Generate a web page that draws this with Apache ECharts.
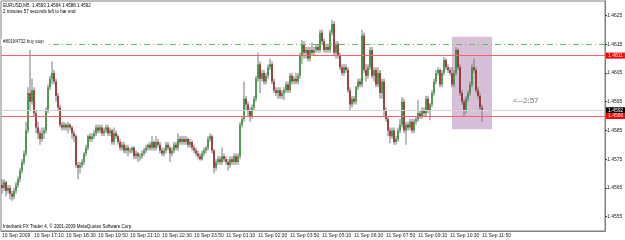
<!DOCTYPE html>
<html>
<head>
<meta charset="utf-8">
<script src="https://cdn.jsdelivr.net/npm/echarts@6/dist/echarts.min.js"></script>
<style>
html, body { margin: 0; padding: 0; background: #fff; }
#main { width: 625px; height: 240px; }
</style>
</head>
<body>
<div id="main"></div>
<script>
// EURUSD M5 bars: [open, close, low, high]
var bars = [
[1.4566,1.4565,1.4563,1.4568],[1.4565,1.4567,1.4564,1.4568],[1.4567,1.4564,1.4562,1.45675],[1.4564,1.4565,1.4563,1.4566],
[1.4565,1.4563,1.4561,1.4566],[1.4563,1.4562,1.45605,1.4564],[1.4562,1.4564,1.4561,1.4565],[1.4564,1.4566,1.4563,1.4567],
[1.4566,1.4568,1.4565,1.4569],[1.4568,1.4571,1.4567,1.4572],[1.4571,1.4574,1.4570,1.4575],[1.4574,1.4577,1.4573,1.4578],
[1.4577,1.4585,1.4576,1.4588],[1.4585,1.4598,1.4584,1.4600],[1.4598,1.4595,1.4592,1.4613],[1.4595,1.4599,1.4594,1.4603],
[1.4599,1.4591,1.4590,1.4600],[1.4591,1.4586,1.4584,1.4592],[1.4586,1.4584,1.4582,1.4588],[1.4584,1.4582,1.4580,1.4585],
[1.4582,1.4584,1.4581,1.4586],[1.4584,1.4585,1.4582,1.4586],[1.4585,1.4592,1.4584,1.4593],[1.4592,1.4600,1.4591,1.4601],
[1.4600,1.4603,1.4599,1.4604],[1.4603,1.4605,1.4601,1.4609],[1.4605,1.4602,1.4601,1.4606],[1.4602,1.4597,1.4595,1.4603],
[1.4597,1.4593,1.4592,1.4598],[1.4593,1.4587,1.4586,1.4594],[1.4587,1.4586,1.4585,1.4588],[1.4586,1.4587,1.4585,1.4588],
[1.4587,1.4586,1.4585,1.45875],[1.4586,1.4587,1.4584,1.4588],[1.4587,1.4586,1.4585,1.45875],[1.4586,1.4584,1.4582,1.45865],
[1.4584,1.4583,1.4581,1.4585],[1.4583,1.4573,1.4572,1.45835],[1.4573,1.4572,1.4568,1.4574],[1.4572,1.4573,1.4570,1.4574],
[1.4573,1.4574,1.4572,1.4575],[1.4574,1.4577,1.4573,1.45775],[1.4577,1.4579,1.4576,1.4580],[1.4579,1.4583,1.4578,1.45835],
[1.4583,1.4582,1.4581,1.4584],[1.4582,1.4583,1.4581,1.4584],[1.4583,1.4584,1.4582,1.4585],[1.4584,1.4586,1.4583,1.4587],
[1.4586,1.4585,1.4584,1.4587],[1.4585,1.4586,1.4584,1.4587],[1.4586,1.4584,1.4583,1.4587],[1.4584,1.4585,1.4583,1.4586],
[1.4585,1.4586,1.4584,1.4587],[1.4586,1.4584,1.4583,1.4587],[1.4584,1.4585,1.4583,1.4586],[1.4585,1.4581,1.4580,1.45855],
[1.4581,1.4584,1.4580,1.4586],[1.4584,1.4583,1.4582,1.4585],[1.4583,1.4581,1.4580,1.45835],[1.4581,1.4579,1.4578,1.4582],
[1.4579,1.4580,1.4578,1.4581],[1.4580,1.4578,1.4577,1.4581],[1.4578,1.4579,1.4577,1.4580],[1.4579,1.4578,1.4576,1.4580],
[1.4578,1.4578,1.4577,1.4579],[1.4578,1.4579,1.4577,1.45795],[1.4579,1.4576,1.4575,1.45795],[1.4576,1.4577,1.4575,1.4578],
[1.4577,1.4576,1.4574,1.45775],[1.4576,1.4576,1.45745,1.4577],[1.4576,1.4577,1.4575,1.4578],[1.4577,1.4578,1.4576,1.4579],
[1.4578,1.4579,1.4577,1.4580],[1.4579,1.4580,1.4578,1.45805],[1.4580,1.4579,1.4578,1.4581],[1.4579,1.4581,1.4578,1.4583],
[1.4581,1.4579,1.4578,1.45815],[1.4579,1.4581,1.4578,1.4583],[1.4581,1.4580,1.4579,1.4582],[1.4580,1.4578,1.4577,1.4581],
[1.4578,1.4577,1.4576,1.4579],[1.4577,1.4578,1.4576,1.4579],[1.4578,1.4580,1.4577,1.4581],[1.4580,1.4579,1.4578,1.4581],
[1.4579,1.4577,1.4574,1.45795],[1.4577,1.4578,1.4576,1.4579],[1.4578,1.4580,1.4577,1.4581],[1.4580,1.4579,1.4578,1.4581],
[1.4579,1.4582,1.4578,1.4584],[1.4582,1.4581,1.4580,1.4583],[1.4581,1.4582,1.4580,1.4583],[1.4582,1.4581,1.4580,1.4583],
[1.4581,1.4582,1.4580,1.4583],[1.4582,1.4580,1.4579,1.45825],[1.4580,1.4581,1.4579,1.4582],[1.4581,1.4579,1.4578,1.45815],
[1.4579,1.4578,1.4577,1.4580],[1.4578,1.4577,1.4576,1.4579],[1.4577,1.4576,1.4575,1.4578],[1.4576,1.4575,1.45745,1.4577],
[1.4575,1.4577,1.45745,1.4578],[1.4577,1.4578,1.4576,1.4579],[1.4578,1.4579,1.4577,1.45795],[1.4579,1.4582,1.4578,1.4583],
[1.4582,1.4583,1.4581,1.4584],[1.4583,1.4578,1.4577,1.45835],[1.4578,1.4572,1.4570,1.45785],[1.4572,1.4574,1.4571,1.4575],
[1.4574,1.4575,1.4573,1.4576],[1.4575,1.4574,1.4573,1.4576],[1.4574,1.4576,1.4573,1.4579],[1.4576,1.4575,1.4574,1.4577],
[1.4575,1.4574,1.4573,1.4576],[1.4574,1.4573,1.4571,1.4575],[1.4573,1.4575,1.4572,1.4576],[1.4575,1.4574,1.4573,1.4576],
[1.4574,1.4576,1.4573,1.4577],[1.4576,1.4574,1.4573,1.4577],[1.4574,1.4576,1.4573,1.4577],[1.4576,1.4587,1.4575,1.4588],
[1.4587,1.4589,1.4586,1.4590],[1.4589,1.4596,1.4588,1.4602],[1.4596,1.4594,1.4592,1.4597],[1.4594,1.4592,1.4590,1.4595],
[1.4592,1.4590,1.4588,1.4593],[1.4590,1.4593,1.4589,1.4594],[1.4593,1.4596,1.4592,1.4597],[1.4596,1.4603,1.4595,1.4604],
[1.4603,1.4608,1.4602,1.4612],[1.4608,1.4603,1.4598,1.4609],[1.4603,1.4605,1.4602,1.4606],[1.4605,1.4602,1.4601,1.4606],
[1.4602,1.4604,1.4601,1.4605],[1.4604,1.4607,1.4603,1.4608],[1.4607,1.4608,1.4606,1.4610],[1.4608,1.4602,1.4601,1.4609],
[1.4602,1.4599,1.4598,1.4603],[1.4599,1.4598,1.4597,1.4600],[1.4598,1.4599,1.4596,1.4600],[1.4599,1.4597,1.4596,1.4600],
[1.4597,1.4598,1.4596,1.4599],[1.4598,1.4599,1.45955,1.4600],[1.4599,1.4601,1.4598,1.4602],[1.4601,1.4599,1.4598,1.4602],
[1.4599,1.4604,1.4598,1.4605],[1.4604,1.4602,1.4601,1.4605],[1.4602,1.4603,1.4601,1.4604],[1.4603,1.4602,1.4601,1.4605],
[1.4602,1.4604,1.4601,1.4605],[1.4604,1.4611,1.4603,1.4612],[1.4611,1.4615,1.4608,1.46165],[1.4615,1.4612,1.4610,1.4616],
[1.4612,1.4613,1.4610,1.4614],[1.4613,1.4610,1.4609,1.4614],[1.4610,1.4613,1.4609,1.4614],[1.4613,1.4612,1.4611,1.46155],
[1.4612,1.4613,1.4611,1.4614],[1.4613,1.4614,1.4612,1.4615],[1.4614,1.4613,1.4612,1.4615],[1.4613,1.4619,1.4612,1.4620],
[1.4619,1.4616,1.4615,1.4620],[1.4616,1.4613,1.4612,1.4617],[1.4613,1.4614,1.4612,1.4615],[1.4614,1.4613,1.4612,1.4615],
[1.4613,1.4619,1.4612,1.4620],[1.4619,1.4622,1.4618,1.46234],[1.4622,1.4612,1.4611,1.4623],[1.4612,1.4615,1.4610,1.4616],
[1.4615,1.4611,1.4610,1.4616],[1.4611,1.4607,1.4606,1.4612],[1.4607,1.4605,1.4604,1.4608],[1.4605,1.4607,1.4604,1.4608],
[1.4607,1.4606,1.4605,1.4608],[1.4606,1.4599,1.4598,1.4607],[1.4599,1.4594,1.4592,1.4600],[1.4594,1.4596,1.4593,1.4597],
[1.4596,1.4595,1.4594,1.4597],[1.4595,1.4600,1.4594,1.46005],[1.4600,1.4602,1.4599,1.4603],[1.4602,1.4601,1.4600,1.4603],
[1.4601,1.4618,1.4600,1.4620],[1.4618,1.4606,1.4605,1.4619],[1.4606,1.4604,1.4602,1.4608],[1.4604,1.4607,1.4603,1.4608],
[1.4607,1.4613,1.4606,1.4614],[1.4613,1.4604,1.4603,1.4614],[1.4604,1.4606,1.4602,1.4607],[1.4606,1.4601,1.4600,1.4607],
[1.4601,1.4605,1.4600,1.4607],[1.4605,1.4598,1.4596,1.4606],[1.4598,1.4602,1.4596,1.4603],[1.4602,1.4592,1.4590,1.4603],
[1.4592,1.4589,1.4588,1.4593],[1.4589,1.4585,1.4583,1.4590],[1.4585,1.4583,1.45805,1.4586],[1.4583,1.4585,1.4582,1.4586],
[1.4585,1.4581,1.4580,1.4586],[1.4581,1.4582,1.4580,1.4583],[1.4582,1.4585,1.4581,1.4586],[1.4585,1.4587,1.4584,1.4589],
[1.4587,1.4595,1.4586,1.45966],[1.4595,1.4585,1.4584,1.4596],[1.4585,1.4587,1.4580,1.4588],[1.4587,1.4586,1.4585,1.4588],
[1.4586,1.4588,1.4585,1.4589],[1.4588,1.4585,1.4584,1.4589],[1.4585,1.4588,1.4584,1.4589],[1.4588,1.4589,1.4587,1.4590],
[1.4589,1.4591,1.4588,1.45955],[1.4591,1.4590,1.4589,1.4592],[1.4590,1.4592,1.4589,1.4593],[1.4592,1.4591,1.4590,1.4593],
[1.4591,1.4596,1.4590,1.4597],[1.4596,1.4592,1.4591,1.4597],[1.4592,1.4594,1.45885,1.45945],[1.4594,1.4598,1.4593,1.4599],
[1.4598,1.4602,1.4597,1.4603],[1.4602,1.4605,1.4601,1.4606],[1.4605,1.4606,1.4604,1.4607],[1.4606,1.4601,1.4600,1.46065],
[1.4601,1.4605,1.4600,1.4606],[1.4605,1.46095,1.4604,1.46105],[1.46095,1.4607,1.4606,1.4610],[1.4607,1.4606,1.4605,1.4608],
[1.4606,1.4605,1.4604,1.4607],[1.4605,1.4601,1.4600,1.4607],[1.4601,1.4605,1.4600,1.4606],[1.4605,1.4613,1.4604,1.4614],
[1.4613,1.4607,1.4606,1.46135],[1.4607,1.4598,1.4597,1.4608],[1.4598,1.4595,1.4594,1.4599],[1.4595,1.4592,1.4590,1.4596],
[1.4592,1.4596,1.4591,1.4597],[1.4596,1.4598,1.4595,1.4599],[1.4598,1.4601,1.4597,1.4602],[1.4601,1.4607,1.4600,1.4608],
[1.4607,1.4606,1.4605,1.4610],[1.4606,1.4599,1.4598,1.4607],[1.4599,1.4597,1.4596,1.4600],[1.4597,1.4593,1.4592,1.4598],
[1.4593,1.4592,1.4588,1.4594]
];

// one label every 16 bars (80 minutes)
var timeLabels = ['10 Sep 2009', '10 Sep 17:10', '10 Sep 18:30', '10 Sep 19:50', '10 Sep 21:10', '10 Sep 22:30',
  '10 Sep 23:50', '11 Sep 01:10', '11 Sep 02:30', '11 Sep 03:50', '11 Sep 05:10', '11 Sep 06:30',
  '11 Sep 07:50', '11 Sep 09:10', '11 Sep 10:30', '11 Sep 11:50'];
var priceTicks = [1.4555, 1.4565, 1.4575, 1.4585, 1.4595, 1.4605, 1.4615, 1.4625];

var redLevels = [1.4611, 1.4590];
var buyStop = 1.4615;
var bidPrice = 1.4592;
var boxStart = 225, boxEnd = 245, boxTop = 1.46176, boxBottom = 1.45854;

var slotCount = 302; // bars plus the empty shift on the right
var categories = [];
for (var i = 0; i < slotCount; i++) {
  categories.push(i % 16 === 0 && i / 16 < timeLabels.length ? timeLabels[i / 16] : '');
}
var candleData = bars.map(function (b, i) { return [i, b[0], b[1], b[2], b[3]]; });

var FONT = 'Liberation Sans';
var showTick = function (index) { return index % 16 === 0 && index / 16 < timeLabels.length; };

function priceTag(bg) {
  return {
    show: true, position: 'end', distance: 1,
    formatter: function (p) { return Number(p.value).toFixed(4); },
    color: '#fff', backgroundColor: bg, fontSize: 5, fontFamily: FONT,
    padding: [1, 2, 0, 2]
  };
}

function renderCandle(params, api) {
  var i = api.value(0);
  var o = api.value(1), c = api.value(2), l = api.value(3), h = api.value(4);
  var pO = api.coord([i, o]), pC = api.coord([i, c]);
  var pL = api.coord([i, l]), pH = api.coord([i, h]);
  var w = 1.5;
  var top = Math.min(pO[1], pC[1]);
  var ht = Math.max(Math.abs(pO[1] - pC[1]), 1);
  return {
    type: 'group',
    children: [
      { type: 'line', shape: { x1: pH[0], y1: pH[1], x2: pL[0], y2: pL[1] },
        style: { stroke: '#767676', lineWidth: 1 } },
      { type: 'rect', shape: { x: pO[0] - w / 2, y: top, width: w, height: ht },
        style: { fill: c >= o ? '#2a8f2a' : '#951a1a' } }
    ]
  };
}

var myChart = echarts.init(document.getElementById('main'));
var option = {
  animation: false,
  backgroundColor: '#fff',
  grid: { left: 1, right: 20, top: 1, bottom: 9, show: true, borderColor: '#808080', borderWidth: 1,
    outerBoundsMode: 'none' },
  xAxis: {
    type: 'category', data: categories, boundaryGap: true,
    axisLine: { lineStyle: { color: '#808080' } },
    axisTick: { interval: showTick, length: 2, alignWithLabel: true, lineStyle: { color: '#404040' } },
    axisLabel: { interval: showTick, align: 'left', fontSize: 5, fontFamily: FONT, color: '#202020', margin: 2 },
    splitLine: { show: false }
  },
  yAxis: {
    type: 'value', position: 'right', min: 1.4550, max: 1.4630,
    axisLine: { show: true, lineStyle: { color: '#808080' } },
    axisTick: { show: true, customValues: priceTicks, length: 2, lineStyle: { color: '#404040' } },
    axisLabel: { customValues: priceTicks, fontSize: 5, fontFamily: FONT, color: '#202020', margin: 2,
      formatter: function (v) { return v.toFixed(4); } },
    splitLine: { show: false }
  },
  series: [
    {
      type: 'line', data: [], z: 1, silent: true,
      markArea: {
        silent: true,
        itemStyle: { color: '#d8bfd8' },
        data: [[{ xAxis: boxStart, yAxis: boxTop }, { xAxis: boxEnd, yAxis: boxBottom }]]
      }
    },
    {
      type: 'custom', z: 2, renderItem: renderCandle, data: candleData,
      encode: { x: 0, y: [1, 2, 3, 4] }, clip: true
    },
    {
      type: 'line', data: [], z: 3, silent: true,
      markLine: {
        silent: true, symbol: 'none', animation: false, precision: 5,
        data: [
          { yAxis: bidPrice, lineStyle: { color: '#d4d4d4', type: 'solid', width: 1 }, label: priceTag('#000') },
          { yAxis: redLevels[0], lineStyle: { color: '#ff6262', type: 'solid', width: 1 }, label: priceTag('#f00') },
          { yAxis: redLevels[1], lineStyle: { color: '#ff6262', type: 'solid', width: 1 }, label: priceTag('#f00') },
          { yAxis: buyStop, lineStyle: { color: '#5cbf5c', type: [6, 3, 1, 3], width: 1 },
            label: { show: true, position: 'insideStart', distance: 0, offset: [0, -2], formatter: '#80184732 buy stop',
              fontSize: 4.5, fontFamily: FONT, color: '#202020', backgroundColor: '#fff', padding: [1, 2, 1, 2] } }
        ]
      }
    }
  ],
  graphic: [
    { type: 'text', left: 3, top: 3, style: { text: 'EURUSD,M5  1.4593 1.4594 1.4588 1.4592', font: '4.5px ' + FONT, fill: '#000' } },
    { type: 'text', left: 3, top: 9, style: { text: '2 minutes 57 seconds left to bar end', font: '4.5px ' + FONT, fill: '#000' } },
    { type: 'text', left: 3, top: 224, style: { text: 'Interbank FX Trader 4, © 2001-2009 MetaQuotes Software Corp.', font: '4.5px ' + FONT, fill: '#000' } },
    { type: 'text', left: 513, top: 97, style: { text: '<--2:57', font: '8px ' + FONT, fill: '#777' } }
  ]
};
myChart.setOption(option);
</script>
</body>
</html>
